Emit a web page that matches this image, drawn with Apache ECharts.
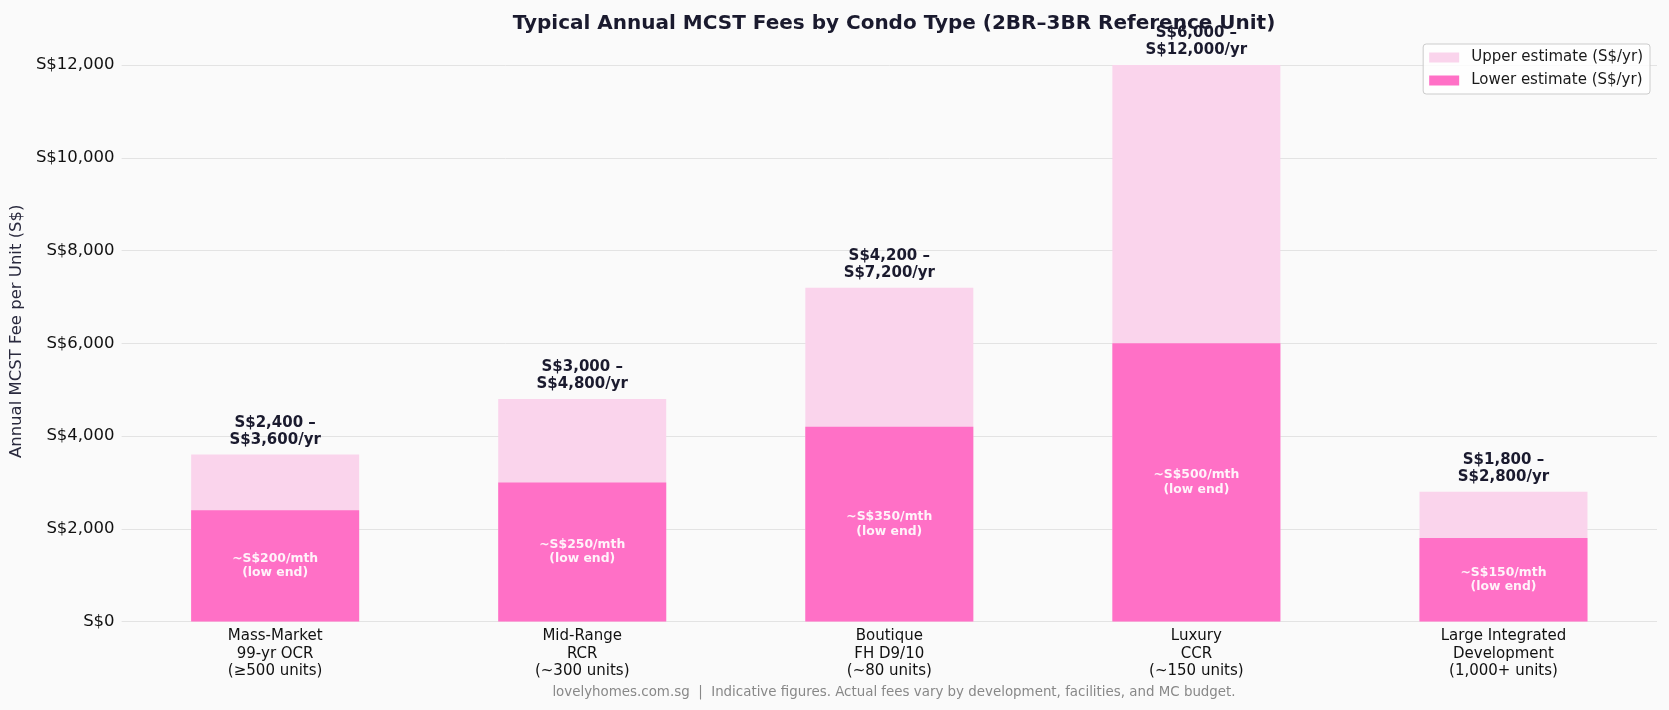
<!DOCTYPE html>
<html>
<head>
<meta charset="utf-8">
<title>MCST Fees by Condo Type</title>
<script src="https://cdn.jsdelivr.net/npm/echarts@6/dist/echarts.min.js"></script>
<style>
  html, body { margin: 0; padding: 0; background: #fafafa; }
  #chart { width: 1669px; height: 710px; }
</style>
</head>
<body>
<div id="chart"></div>
<script>
// 数据
var categories = [
  'Mass-Market\n99-yr OCR\n(\u2265500 units)',
  'Mid-Range\nRCR\n(~300 units)',
  'Boutique\nFH D9/10\n(~80 units)',
  'Luxury\nCCR\n(~150 units)',
  'Large Integrated\nDevelopment\n(1,000+ units)'
]
var lowerFees = [2400, 3000, 4200, 6000, 1800]
var upperFees = [3600, 4800, 7200, 12000, 2800]
var yTicks = [0, 2000, 4000, 6000, 8000, 10000, 12000]

var font = 'DejaVu Sans, Liberation Sans, sans-serif'

function money(v) {
  return 'S$' + v.toLocaleString('en-US')
}

var chart = echarts.init(document.getElementById('chart'))
chart.setOption({
  backgroundColor: '#fafafa',
  animation: false,
  textStyle: { fontFamily: font },
  title: [
    {
      text: 'Typical Annual MCST Fees by Condo Type (2BR\u20133BR Reference Unit)',
      left: 889,
      top: 9,
      textAlign: 'center',
      textStyle: { fontSize: 20, fontWeight: 'bold', color: '#1a1a2e', fontFamily: font }
    },
    {
      text: 'lovelyhomes.com.sg  |  Indicative figures. Actual fees vary by development, facilities, and MC budget.',
      left: 889,
      top: 681,
      textAlign: 'center',
      textStyle: { fontSize: 13.4, fontWeight: 'normal', color: '#888888', fontFamily: font }
    }
  ],
  legend: {
    data: ['Upper estimate (S$/yr)', 'Lower estimate (S$/yr)'],
    orient: 'vertical',
    right: 19,
    top: 44,
    itemWidth: 30,
    itemHeight: 10,
    itemGap: 8,
    padding: [6, 7, 6, 6],
    backgroundColor: 'rgba(255,255,255,0.8)',
    borderColor: '#cccccc',
    borderWidth: 1,
    borderRadius: 3,
    icon: 'rect',
    textStyle: { fontSize: 15, color: '#1a1a1a', lineHeight: 15, padding: [0, 0, 0, 7], fontFamily: font }
  },
  grid: {
    left: 121,
    right: 12,
    top: 65,
    bottom: 88.4,
    containLabel: false
  },
  xAxis: {
    type: 'category',
    data: categories,
    axisLine: { show: false },
    axisTick: { show: false },
    axisLabel: {
      color: '#111111',
      fontSize: 15,
      lineHeight: 17.5,
      margin: 6,
      interval: 0,
      fontFamily: font
    }
  },
  yAxis: {
    type: 'value',
    min: 0,
    max: 12000,
    interval: 2000,
    name: 'Annual MCST Fee per Unit (S$)',
    nameLocation: 'middle',
    nameGap: 92,
    // 轴区域实际到 12600，名称居中要上移一点
    nameTextStyle: { fontSize: 16.5, color: '#2a2a3e', fontFamily: font, padding: [0, 0, 0, 24] },
    axisLine: { show: false },
    axisTick: { show: false },
    axisLabel: {
      color: '#111111',
      fontSize: 16.5,
      margin: 7,
      fontFamily: font,
      formatter: function (v) {
        return yTicks.indexOf(v) >= 0 ? money(v) : ''
      }
    },
    splitLine: { lineStyle: { color: '#e3e3e3', width: 1 } }
  },
  series: [
    {
      name: 'Upper estimate (S$/yr)',
      type: 'bar',
      data: upperFees,
      barWidth: 168,
      barGap: '-100%',
      itemStyle: { color: '#fad4ec' },
      label: {
        show: true,
        position: 'top',
        distance: 6,
        color: '#1a1a2e',
        fontSize: 15,
        fontWeight: 'bold',
        lineHeight: 17,
        fontFamily: font,
        formatter: function (p) {
          return money(lowerFees[p.dataIndex]) + ' \u2013\n' + money(upperFees[p.dataIndex]) + '/yr'
        }
      }
    },
    {
      name: 'Lower estimate (S$/yr)',
      type: 'bar',
      data: lowerFees,
      barWidth: 168,
      barGap: '-100%',
      itemStyle: { color: '#ff70c6' },
      label: {
        show: true,
        position: 'inside',
        color: '#fff3fa',
        fontSize: 12.4,
        fontWeight: 'bold',
        lineHeight: 14.5,
        fontFamily: font,
        formatter: function (p) {
          return '~' + money(lowerFees[p.dataIndex] / 12) + '/mth\n(low end)'
        }
      }
    }
  ]
})
</script>
</body>
</html>
